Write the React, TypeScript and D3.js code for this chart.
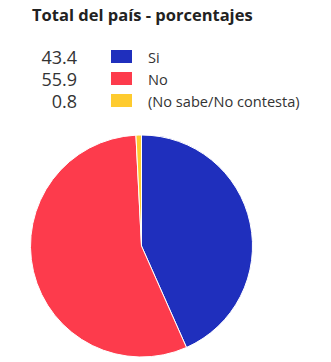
import { useEffect, useRef } from "react";
import * as d3 from "d3";

const categories = ["Si", "No", "(No sabe/No contesta)"];
const values = [43.4, 55.9, 0.8];
const colors = ["#1f2fbd", "#fd3b4c", "#fecb2f"];
const title = "Total del país - porcentajes";

export default function App() {
  const svgRef = useRef<SVGSVGElement>(null);

  useEffect(() => {
    if (!svgRef.current) return;
    const width = 331;
    const height = 362;
    const svg = d3.select(svgRef.current);
    svg.selectAll("*").remove();

    svg
      .append("text")
      .attr("x", 32)
      .attr("y", 21)
      .attr("font-family", "Open Sans")
      .attr("font-weight", 700)
      .attr("font-size", 16.5)
      .attr("fill", "#222")
      .text(title);

    // legend
    const rowY = d3.scaleBand<number>().domain(d3.range(categories.length)).range([49, 115]);
    const legend = svg
      .selectAll("g.item")
      .data(categories)
      .join("g")
      .attr("class", "item")
      .attr("transform", (_, i) => `translate(0,${rowY(i)})`);

    legend
      .append("text")
      .attr("x", 77)
      .attr("y", 15)
      .attr("text-anchor", "end")
      .attr("font-family", "Open Sans")
      .attr("font-size", 18)
      .attr("fill", "#333")
      .text((_, i) => values[i].toFixed(1));

    legend
      .append("rect")
      .attr("x", 111)
      .attr("y", 1)
      .attr("width", 21)
      .attr("height", 13)
      .attr("fill", (_, i) => colors[i]);

    legend
      .append("text")
      .attr("x", 148)
      .attr("y", 13.5)
      .attr("font-family", "Open Sans")
      .attr("font-size", 14.6)
      .attr("fill", "#333")
      .text((d) => d);

    // pie
    const cx = 141.5;
    const cy = 246;
    const r = 111;
    const pie = d3.pie<number>().sort(null).value((d) => d);
    const arc = d3.arc<d3.PieArcDatum<number>>().innerRadius(0).outerRadius(r);

    svg
      .append("g")
      .attr("transform", `translate(${cx},${cy})`)
      .selectAll("path")
      .data(pie(values))
      .join("path")
      .attr("d", arc)
      .attr("fill", (_, i) => colors[i])
      .attr("stroke", "#fff")
      .attr("stroke-width", 1);

    svg.attr("width", width).attr("height", height);
  }, []);

  return (
    <svg
      ref={svgRef}
      width={331}
      height={362}
      style={{ position: "absolute", left: 0, top: 0, background: "#fff" }}
    />
  );
}
